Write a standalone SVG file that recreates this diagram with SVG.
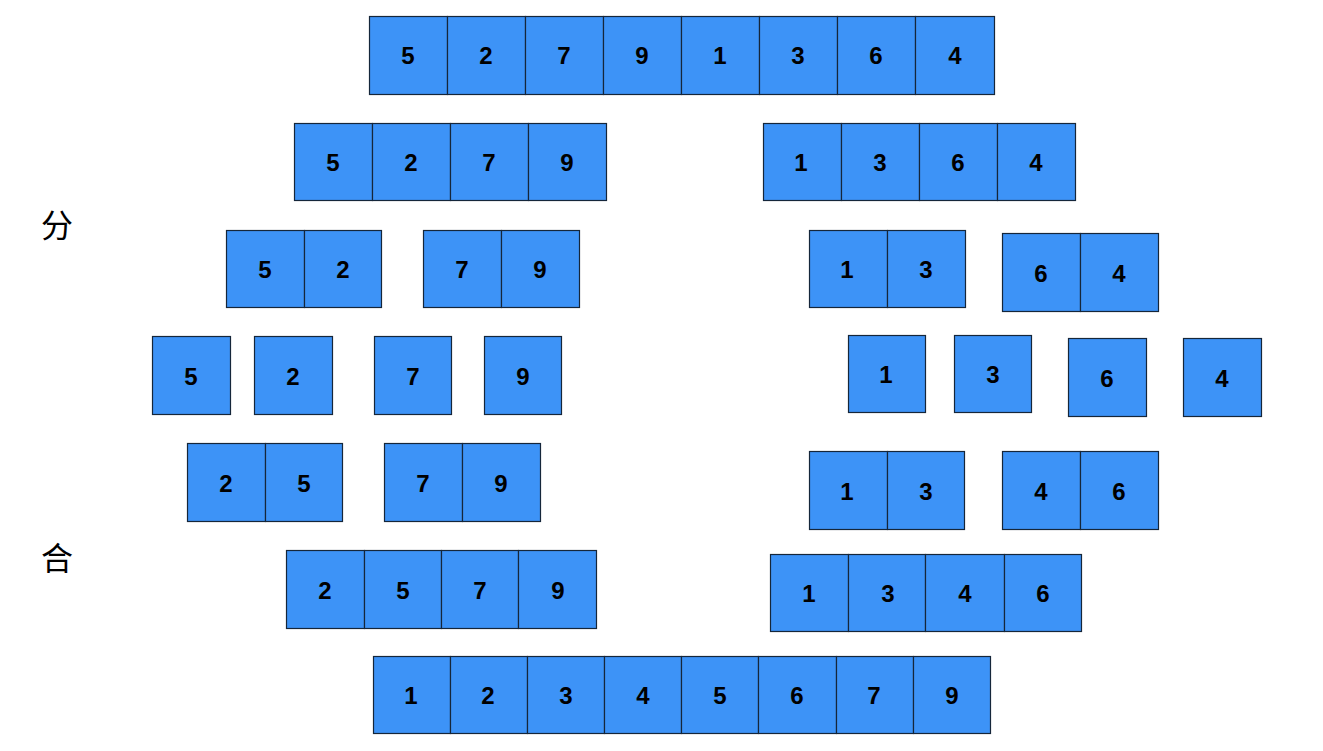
<svg xmlns="http://www.w3.org/2000/svg" width="1323" height="751" viewBox="0 0 1323 751">
<style>
.c{fill:#3d93f7;stroke:#15263a;stroke-width:1.2}
.t{font-family:"Liberation Sans",Arial,sans-serif;font-weight:bold;font-size:24px;fill:#000;text-anchor:middle}
.l{font-family:"Noto Sans CJK SC","Noto Sans",sans-serif;font-size:32px;fill:#000;text-anchor:middle}
</style>
<rect width="1323" height="751" fill="#fff"/>
<text class="l" x="57" y="237">分</text>
<text class="l" x="57" y="570">合</text>
<g id="row1">
<rect class="c" x="369.5" y="16.5" width="78" height="78"/><text class="t" x="408" y="64">5</text>
<rect class="c" x="447.5" y="16.5" width="78" height="78"/><text class="t" x="486" y="64">2</text>
<rect class="c" x="525.5" y="16.5" width="78" height="78"/><text class="t" x="564" y="64">7</text>
<rect class="c" x="603.5" y="16.5" width="78" height="78"/><text class="t" x="642" y="64">9</text>
<rect class="c" x="681.5" y="16.5" width="78" height="78"/><text class="t" x="720" y="64">1</text>
<rect class="c" x="759.5" y="16.5" width="78" height="78"/><text class="t" x="798" y="64">3</text>
<rect class="c" x="837.5" y="16.5" width="78" height="78"/><text class="t" x="876" y="64">6</text>
<rect class="c" x="915.5" y="16.5" width="79" height="78"/><text class="t" x="955" y="64">4</text>
</g>
<g id="row2-left">
<rect class="c" x="294.5" y="123.5" width="78" height="77"/><text class="t" x="333" y="171">5</text>
<rect class="c" x="372.5" y="123.5" width="78" height="77"/><text class="t" x="411" y="171">2</text>
<rect class="c" x="450.5" y="123.5" width="78" height="77"/><text class="t" x="489" y="171">7</text>
<rect class="c" x="528.5" y="123.5" width="78" height="77"/><text class="t" x="567" y="171">9</text>
</g>
<g id="row2-right">
<rect class="c" x="763.5" y="123.5" width="78" height="77"/><text class="t" x="801" y="171">1</text>
<rect class="c" x="841.5" y="123.5" width="78" height="77"/><text class="t" x="880" y="171">3</text>
<rect class="c" x="919.5" y="123.5" width="78" height="77"/><text class="t" x="958" y="171">6</text>
<rect class="c" x="997.5" y="123.5" width="78" height="77"/><text class="t" x="1036" y="171">4</text>
</g>
<g id="row3-a">
<rect class="c" x="226.5" y="230.5" width="78" height="77"/><text class="t" x="265" y="278">5</text>
<rect class="c" x="304.5" y="230.5" width="77" height="77"/><text class="t" x="343" y="278">2</text>
</g>
<g id="row3-b">
<rect class="c" x="423.5" y="230.5" width="78" height="77"/><text class="t" x="462" y="278">7</text>
<rect class="c" x="501.5" y="230.5" width="78" height="77"/><text class="t" x="540" y="278">9</text>
</g>
<g id="row3-c">
<rect class="c" x="809.5" y="230.5" width="78" height="77"/><text class="t" x="847" y="278">1</text>
<rect class="c" x="887.5" y="230.5" width="78" height="77"/><text class="t" x="926" y="278">3</text>
</g>
<g id="row3-d">
<rect class="c" x="1002.5" y="233.5" width="78" height="78"/><text class="t" x="1041" y="282">6</text>
<rect class="c" x="1080.5" y="233.5" width="78" height="78"/><text class="t" x="1119" y="282">4</text>
</g>
<g id="row4-5"><rect class="c" x="152.5" y="336.5" width="78" height="78"/><text class="t" x="191" y="385">5</text></g>
<g id="row4-2"><rect class="c" x="254.5" y="336.5" width="78" height="78"/><text class="t" x="293" y="385">2</text></g>
<g id="row4-7"><rect class="c" x="374.5" y="336.5" width="77" height="78"/><text class="t" x="413" y="385">7</text></g>
<g id="row4-9"><rect class="c" x="484.5" y="336.5" width="77" height="78"/><text class="t" x="523" y="385">9</text></g>
<g id="row4-1"><rect class="c" x="848.5" y="335.5" width="77" height="77"/><text class="t" x="886" y="383">1</text></g>
<g id="row4-3"><rect class="c" x="954.5" y="335.5" width="77" height="77"/><text class="t" x="993" y="383">3</text></g>
<g id="row4-6"><rect class="c" x="1068.5" y="338.5" width="78" height="78"/><text class="t" x="1107" y="387">6</text></g>
<g id="row4-4"><rect class="c" x="1183.5" y="338.5" width="78" height="78"/><text class="t" x="1222" y="387">4</text></g>
<g id="row5-a">
<rect class="c" x="187.5" y="443.5" width="78" height="78"/><text class="t" x="226" y="492">2</text>
<rect class="c" x="265.5" y="443.5" width="77" height="78"/><text class="t" x="304" y="492">5</text>
</g>
<g id="row5-b">
<rect class="c" x="384.5" y="443.5" width="78" height="78"/><text class="t" x="423" y="492">7</text>
<rect class="c" x="462.5" y="443.5" width="78" height="78"/><text class="t" x="501" y="492">9</text>
</g>
<g id="row5-c">
<rect class="c" x="809.5" y="451.5" width="78" height="78"/><text class="t" x="847" y="500">1</text>
<rect class="c" x="887.5" y="451.5" width="77" height="78"/><text class="t" x="926" y="500">3</text>
</g>
<g id="row5-d">
<rect class="c" x="1002.5" y="451.5" width="78" height="78"/><text class="t" x="1041" y="500">4</text>
<rect class="c" x="1080.5" y="451.5" width="78" height="78"/><text class="t" x="1119" y="500">6</text>
</g>
<g id="row6-left">
<rect class="c" x="286.5" y="550.5" width="78" height="78"/><text class="t" x="325" y="599">2</text>
<rect class="c" x="364.5" y="550.5" width="77" height="78"/><text class="t" x="403" y="599">5</text>
<rect class="c" x="441.5" y="550.5" width="77" height="78"/><text class="t" x="480" y="599">7</text>
<rect class="c" x="518.5" y="550.5" width="78" height="78"/><text class="t" x="558" y="599">9</text>
</g>
<g id="row6-right">
<rect class="c" x="770.5" y="554.5" width="78" height="77"/><text class="t" x="809" y="602">1</text>
<rect class="c" x="848.5" y="554.5" width="77" height="77"/><text class="t" x="888" y="602">3</text>
<rect class="c" x="925.5" y="554.5" width="79" height="77"/><text class="t" x="965" y="602">4</text>
<rect class="c" x="1004.5" y="554.5" width="77" height="77"/><text class="t" x="1043" y="602">6</text>
</g>
<g id="row7">
<rect class="c" x="373.5" y="656.5" width="77" height="77"/><text class="t" x="411" y="704">1</text>
<rect class="c" x="450.5" y="656.5" width="77" height="77"/><text class="t" x="488" y="704">2</text>
<rect class="c" x="527.5" y="656.5" width="77" height="77"/><text class="t" x="566" y="704">3</text>
<rect class="c" x="604.5" y="656.5" width="77" height="77"/><text class="t" x="643" y="704">4</text>
<rect class="c" x="681.5" y="656.5" width="77" height="77"/><text class="t" x="720" y="704">5</text>
<rect class="c" x="758.5" y="656.5" width="78" height="77"/><text class="t" x="797" y="704">6</text>
<rect class="c" x="836.5" y="656.5" width="77" height="77"/><text class="t" x="874" y="704">7</text>
<rect class="c" x="913.5" y="656.5" width="77" height="77"/><text class="t" x="952" y="704">9</text>
</g>
</svg>
